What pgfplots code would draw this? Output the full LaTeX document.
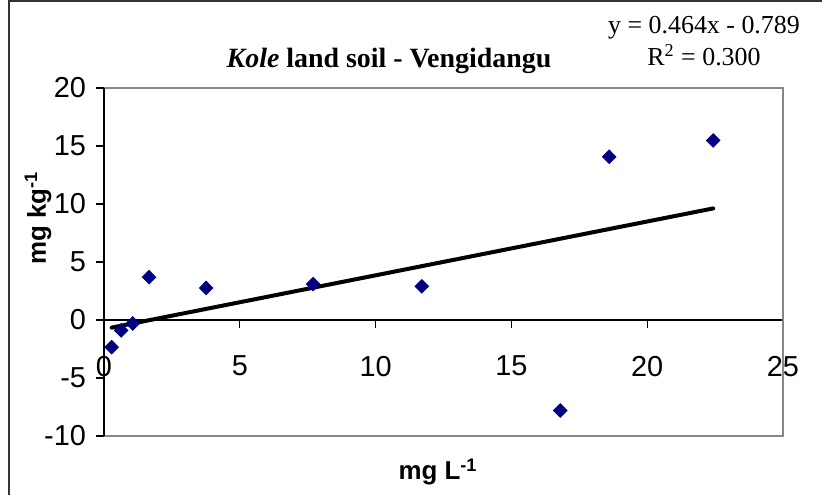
\documentclass[border=0pt]{standalone}
\usepackage{fontspec}
\usepackage{pgfplots}
\pgfplotsset{compat=1.18}
\setmainfont{Liberation Serif}
\newfontfamily\arial{Liberation Sans}

\definecolor{navy}{RGB}{0,0,128}
\definecolor{framegray}{RGB}{135,135,135}

\begin{document}
\begin{tikzpicture}[x=1bp,y=1bp]
\useasboundingbox (0,0) rectangle (411,247.5);
% outer chart frame (left and top edges)
\draw[line width=1bp,black!80] (4.3,0) -- (4.3,247.2) -- (411,247.2);

\begin{axis}[
  at={(52bp,29.5bp)}, anchor=south west,
  width=339.5bp, height=174bp, scale only axis,
  xmin=0, xmax=25, ymin=-10, ymax=20,
  axis x line=middle, axis y line=left,
  axis line style={-, black, line width=0.6bp},
  hide obscured x ticks=false,
  xtick={0,5,10,15,20,25}, ytick={-10,-5,0,5,10,15,20},
  tick align=outside, major tick length=4bp,
  tick style={black, line width=0.6bp},
  /pgf/number format/assume math mode=true,
  tick label style={font=\fontsize{14.5}{16}\arial},
  xticklabel style={yshift=-10.5bp},
  yticklabel style={xshift=-1.5bp},
  clip=false,
]
% plot-area border
\draw[framegray, line width=1.4bp] (rel axis cs:0,0) -- (rel axis cs:1,0) -- (rel axis cs:1,1) -- (rel axis cs:0,1);
\draw[black, line width=0.6bp] (rel axis cs:0,0) -- (rel axis cs:0,1);

% measured points
\addplot[only marks, mark=diamond*, mark size=3.4bp, color=navy,
         mark options={xscale=1.33}] coordinates {
  (0.28,-2.34) (0.63,-0.90) (1.06,-0.30) (1.66,3.69) (3.76,2.76)
  (7.70,3.10) (11.70,2.90) (16.80,-7.80) (18.60,14.07) (22.43,15.48)
};

% linear trend line y = 0.464x - 0.789
\addplot[black, line width=2bp, line cap=round] coordinates {
  (0.28,-0.659) (22.43,9.619)
};
\end{axis}

% title, equation and axis labels
\node[font=\fontsize{14}{16}\selectfont\bfseries] at (194.5,217) {\textit{Kole} land soil - Vengidangu};
\node[font=\fontsize{13}{15}\selectfont, align=center] at (352,227) {y = 0.464x - 0.789\\[1pt]R\textsuperscript{2} = 0.300};
\node[font=\fontsize{13}{15}\arial\bfseries, rotate=90] at (19,138.5) {mg kg\textsuperscript{-1}};
\node[font=\fontsize{13}{15}\arial\bfseries] at (219,11.5) {mg L\textsuperscript{-1}};
\end{tikzpicture}
\end{document}
